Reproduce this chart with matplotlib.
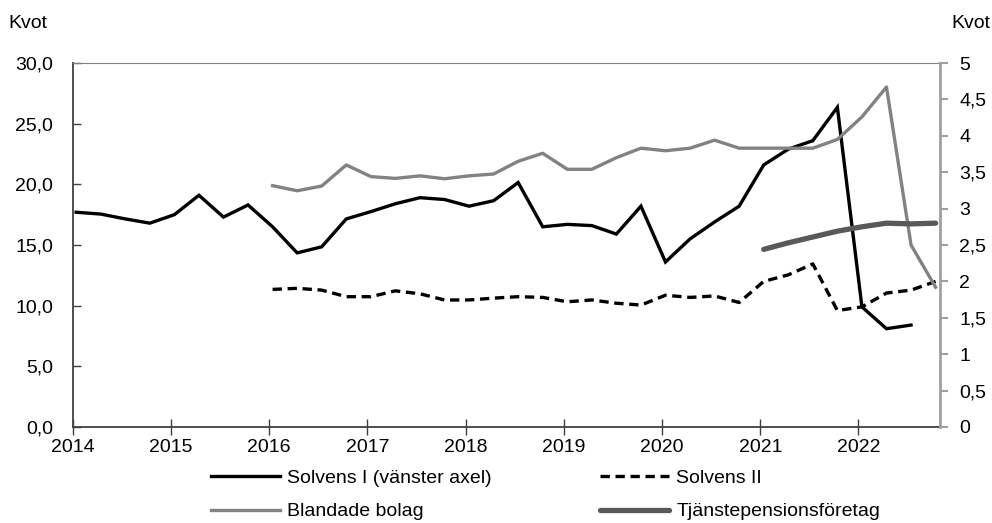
import numpy as np
import matplotlib
matplotlib.use("Agg")
import matplotlib.pyplot as plt
from matplotlib.ticker import FuncFormatter

plt.rcParams["font.family"] = ["Liberation Sans", "DejaVu Sans"]
plt.rcParams["font.size"] = 14

# Quarterly observations, 2014 Q1 .. 2022 Q4 (36 quarters)
quarter_index = np.arange(36)

# Left axis
solvens_1 = [17.7, 17.55, 17.15, 16.8, 17.5, 19.1, 17.3, 18.3, 16.5, 14.35,
             14.85, 17.15, 17.75, 18.4, 18.9, 18.75, 18.2, 18.65, 20.15, 16.5,
             16.7, 16.6, 15.9, 18.2, 13.6, 15.5, 16.9, 18.2, 21.6, 22.9,
             23.6, 26.35, 9.9, 8.1, 8.4]

# Right axis (start at 2016 Q1)
solvens_2 = [1.89, 1.905, 1.88, 1.79, 1.79, 1.87, 1.83, 1.745, 1.745, 1.77,
             1.79, 1.78, 1.72, 1.745, 1.70, 1.675, 1.81, 1.78, 1.80, 1.71,
             2.0, 2.09, 2.24, 1.60, 1.65, 1.84, 1.88, 2.0]
blandade = [3.315, 3.245, 3.31, 3.6, 3.44, 3.415, 3.45, 3.41, 3.45, 3.475,
            3.65, 3.76, 3.54, 3.54, 3.70, 3.83, 3.795, 3.83, 3.94, 3.83,
            3.83, 3.83, 3.83, 3.95, 4.26, 4.67, 2.5, 1.92]
# Right axis (start at 2021 Q1)
tjanstepension = [2.44, 2.53, 2.61, 2.69, 2.75, 2.80, 2.79, 2.80]

year_ticks = list(range(2014, 2023))
left_ticks = [0, 5, 10, 15, 20, 25, 30]
right_ticks = [0, 0.5, 1, 1.5, 2, 2.5, 3, 3.5, 4, 4.5, 5]

x = 2014.035 + 0.25 * quarter_index

fig = plt.figure(figsize=(9.92, 5.23), dpi=100)
ax = fig.add_axes([0.0733, 0.1836, 0.8743, 0.6959])
ax2 = ax.twinx()

l1, = ax.plot(x[:len(solvens_1)], solvens_1, color="black", lw=2.4,
              label="Solvens I (vänster axel)", solid_joinstyle="miter")
l2, = ax2.plot(x[8:8 + len(solvens_2)], solvens_2, color="black", lw=2.4,
               ls=(0, (2.8, 1.7)), label="Solvens II")
l3, = ax2.plot(x[8:8 + len(blandade)], blandade, color="#828282", lw=2.4,
               label="Blandade bolag")
l4, = ax2.plot(x[28:28 + len(tjanstepension)], tjanstepension, color="#595959",
               lw=3.8, label="Tjänstepensionsföretag", solid_capstyle="round")

ax.set_xlim(2014, 2022.83)
ax.set_ylim(0, 30)
ax2.set_ylim(0, 5)

ax.set_xticks(year_ticks)
ax.set_yticks(left_ticks)
ax.yaxis.set_major_formatter(FuncFormatter(lambda v, p: f"{v:.1f}".replace(".", ",")))
ax2.set_yticks(right_ticks)
ax2.yaxis.set_major_formatter(FuncFormatter(lambda v, p: f"{v:g}".replace(".", ",")))

ax.tick_params(axis="y", direction="in", length=6, width=1, color="#404040", pad=14)
ax.tick_params(axis="x", direction="inout", length=12, width=1, color="#404040", pad=3)
ax2.tick_params(axis="y", direction="out", length=6, width=1.5, color="#a0a0a0", pad=8)

for s in ["left", "bottom"]:
    ax.spines[s].set_color("#404040")
    ax.spines[s].set_linewidth(1.3)
ax.spines["top"].set_color("#808080")
ax.spines["right"].set_visible(False)
ax2.spines["right"].set_color("#a0a0a0")
ax2.spines["right"].set_linewidth(2)
for s in ["left", "bottom", "top"]:
    ax2.spines[s].set_visible(False)

fig.text(8 / 992, 1 - 24 / 523, "Kvot", ha="left", va="center", fontsize=14)
fig.text(990 / 992, 1 - 24 / 523, "Kvot", ha="right", va="center", fontsize=14)

# matplotlib fills legend columns first, so order gives rows:
# Solvens I | Solvens II  /  Blandade | Tjänstepension
fig.legend(handles=[l1, l3, l2, l4], ncol=2, frameon=False,
           loc="upper left", bbox_to_anchor=(197 / 992, 1 - 456 / 523),
           handlelength=3.55, handletextpad=0.36, columnspacing=5.6,
           labelspacing=0.8, borderpad=0.2, fontsize=14)

fig.savefig("out.png", dpi=100)
